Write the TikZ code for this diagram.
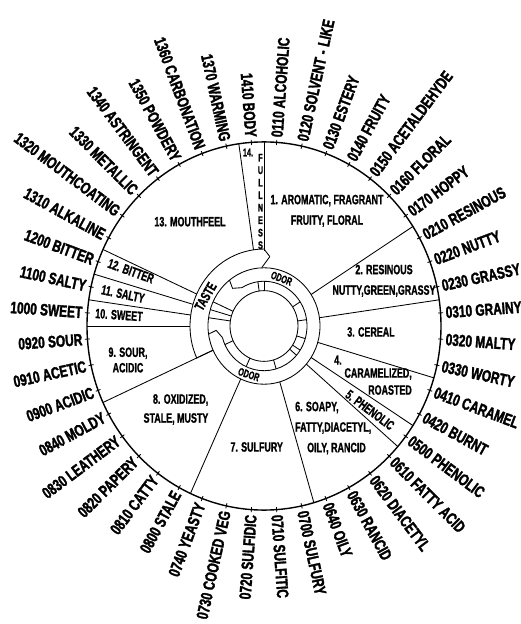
\documentclass[tikz,border=0pt]{standalone}
\usepackage{fontspec}
\newfontfamily\rimfont[FakeStretch=0.72, FakeBold=1.8]{Liberation Sans Bold}
\newfontfamily\catfont[FakeStretch=0.66, FakeBold=1.2]{Liberation Sans Bold}

\begin{document}
\begin{tikzpicture}[
    x=1pt, y=1pt,
    rim/.style={line width=1.4pt},
    spoke/.style={line width=0.85pt},
    hub/.style={line width=0.85pt},
    attlab/.style={font=\rimfont\fontsize{16.5}{18}\selectfont, inner sep=1pt},
    catlab/.style={font=\catfont\fontsize{13.5}{20.5}\selectfont, align=center, inner sep=0pt},
    ringlab/.style={font=\catfont\fontsize{11}{12.5}\selectfont, inner sep=0pt},
]
\useasboundingbox (-264,-298) rectangle (257,326);

\begin{scope}[yscale=1.04]
% rim, ticks and attribute names
\draw[rim] (0,0) circle[radius=177];
\foreach \lab [count=\k from 0] in {0110 ALCOHOLIC, 0120 SOLVENT\hspace{4pt}-\hspace{4pt}LIKE, 0130 ESTERY, 0140 FRUITY,
    0150 ACETALDEHYDE, 0160 FLORAL, 0170 HOPPY, 0210 RESINOUS, 0220 NUTTY, 0230 GRASSY,
    0310 GRAINY, 0320 MALTY, 0330 WORTY, 0410 CARAMEL, 0420 BURNT, 0500 PHENOLIC,
    0610 FATTY ACID, 0620 DIACETYL, 0630 RANCID, 0640 OILY, 0700 SULFURY, 0710 SULFITIC,
    0720 SULFIDIC, 0730 COOKED VEG, 0740 YEASTY, 0800 STALE, 0810 CATTY, 0820 PAPERY,
    0830 LEATHERY, 0840 MOLDY, 0900 ACIDIC, 0910 ACETIC, 0920 SOUR, 1000 SWEET,
    1100 SALTY, 1200 BITTER, 1310 ALKALINE, 1320 MOUTHCOATING, 1330 METALLIC,
    1340 ASTRINGENT, 1350 POWDERY, 1360 CARBONATION, 1370 WARMING, 1410 BODY}{
  \pgfmathsetmacro\ang{90-360/44*(\k+0.5)}
  \pgfmathsetmacro\flip{\ang+180}
  \draw[spoke] (\ang:174.5) -- (\ang:179.5);
  \ifdim\ang pt>-90pt
    \node[attlab, anchor=west, rotate=\ang] (att\k) at (\ang:181) {\lab};
  \else
    \node[attlab, anchor=east, rotate=\flip] (att\k) at (\ang:181) {\lab};
  \fi
}

% spokes between the classes
\foreach \a in {32.73, 8.18, -16.36, -32.73, -40.91, -73.64, -114.55, -155.45}
  \draw[spoke] (\a:56) -- (\a:177);
\foreach \a in {98.18, 155.45, 163.64, 171.82, 180}
  \draw[spoke] (\a:74) -- (\a:177);
\draw[spoke] (90:72) -- (90:177);

% hub
\draw[hub] (0,0) circle[radius=34];
\draw[hub] (0,0) circle[radius=56];
\draw[hub] (128:56) -- (131:48) -- (121:43) arc[start angle=121, end angle=-165, radius=43];
\draw[hub] (188:56) -- (185:48) -- (195:43);
\foreach \a in {98.18, 90, 32.73, 8.18, -16.36, -32.73, -40.91, -73.64, -114.55, -155.45}
  \draw[hub] (\a:34) -- (\a:43);
\foreach \a in {155.45, 163.64, 171.82}
  \draw[hub] (\a:56) -- (\a:34);
\draw[hub] (85:67) -- (90:74) arc[start angle=90, end angle=204.55, radius=74] -- (204.55:56);
\draw[hub] (85:67) -- (92:56.5);

\node[ringlab, rotate=-21] (odortop) at (69:49) {ODOR};
\node[ringlab, rotate=-18] (odorbot) at (-108:49) {ODOR};
\node[ringlab, rotate=60, font=\catfont\fontsize{14}{15}\selectfont] (taste) at (154:65) {TASTE};
\end{scope}

% class names
\node[catlab] (cat1) at (63,115.2) {1. AROMATIC, FRAGRANT\\FRUITY, FLORAL};
\node[catlab] (cat2) at (120,45.2) {2. RESINOUS\\NUTTY,GREEN,GRASSY};
\node[catlab] (cat3) at (107,-6) {3. CEREAL};
\node[catlab] (cat4num) at (74,-34) {4.};
\node[catlab, align=right, anchor=east] (cat4) at (148,-55.5) {CARAMELIZED,\\[-3.5pt]ROASTED};
\node[catlab, rotate=-36.8] (cat5) at (106,-84) {5. PHENOLIC};
\node[catlab, align=left, anchor=west] (cat6) at (31,-102) {6. SOAPY,\\FATTY,DIACETYL,\\\hspace*{12pt}OILY, RANCID};
\node[catlab] (cat7) at (-7.3,-121) {7. SULFURY};
\node[catlab, align=right, anchor=east] (cat8) at (-55.5,-83.5) {8. OXIDIZED,\\[-1.5pt]STALE, MUSTY};
\node[catlab] (cat9) at (-136,-34) {9. SOUR,\\[-5pt]ACIDIC};
\node[catlab, rotate=-4] (cat10) at (-145,11) {10. SWEET};
\node[catlab, rotate=-12] (cat11) at (-141,32) {11. SALTY};
\node[catlab, rotate=-20] (cat12) at (-133,55) {12. BITTER};
\node[catlab] (cat13) at (-74,104.3) {13. MOUTHFEEL};
\node[ringlab] (cat14) at (-16,173.5) {14.};
\node[ringlab, align=center] (fullness) at (-3.5,124.5) {F\\U\\L\\L\\N\\E\\S\\S};
\end{tikzpicture}
\end{document}
